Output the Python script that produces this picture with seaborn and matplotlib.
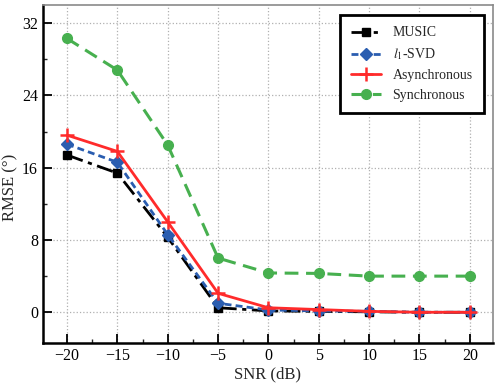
import numpy as np
import pandas as pd
import matplotlib
matplotlib.use("Agg")
import matplotlib.pyplot as plt
import seaborn as sns
from matplotlib.ticker import MultipleLocator

snr = [-20, -15, -10, -5, 0, 5, 10, 15, 20]
music = [17.4, 15.4, 8.3, 0.5, 0.15, 0.1, 0.05, 0.0, 0.0]
l1svd = [18.6, 16.6, 8.6, 1.0, 0.25, 0.15, 0.1, 0.0, 0.0]
asyn = [19.6, 17.8, 10.0, 2.1, 0.5, 0.3, 0.1, 0.0, 0.0]
syn = [30.3, 26.8, 18.5, 6.0, 4.35, 4.3, 4.0, 4.0, 4.0]
names = ["MUSIC", "$l_1$-SVD", "Asynchronous", "Synchronous"]

sns.set_theme(style="ticks")
plt.rcParams["font.family"] = ["Liberation Serif", "DejaVu Serif"]
plt.rcParams["mathtext.fontset"] = "stix"

fig = plt.figure(figsize=(4.98, 3.88), dpi=100)
ax = fig.add_axes([0.086, 0.116, 0.904, 0.871])

styles = [
    dict(color="black", ls=(0, (6, 2, 1.5, 2)), marker="s", ms=6, mec="black", mfc="black", lw=2.0),
    dict(color="#2a5db0", ls=(0, (2.5, 1.5)), marker="D", ms=6, mec="#2a5db0", mfc="#2a5db0", lw=2.0),
    dict(color="#ff2b2b", ls="-", marker="+", ms=10, mec="#ff2b2b", mfc="#ff2b2b", lw=2.0, mew=1.8),
    dict(color="#47b04f", ls=(0, (4.5, 2.5)), marker="o", ms=7, mec="#47b04f", mfc="#47b04f", lw=2.2),
]
series = [music, l1svd, asyn, syn]
for name, vals, st in zip(names, series, styles):
    df = pd.DataFrame({"SNR": snr, "RMSE": vals})
    sns.lineplot(data=df, x="SNR", y="RMSE", ax=ax, label=name,
                 color=st["color"], linestyle=st["ls"], marker=st["marker"],
                 markersize=st["ms"], markeredgecolor=st["mec"], markerfacecolor=st["mfc"],
                 linewidth=st["lw"], markeredgewidth=st.get("mew", 1.0))

ax.set_xlim(-22.4, 22.3)
ax.set_ylim(-3.4, 34)
ax.xaxis.set_major_locator(MultipleLocator(5))
ax.xaxis.set_minor_locator(MultipleLocator(2.5))
ax.yaxis.set_major_locator(MultipleLocator(8))
ax.yaxis.set_minor_locator(MultipleLocator(4))
ax.grid(True, which="major", ls=":", color="#b0b0b0", lw=0.9)
ax.tick_params(which="major", direction="in", length=6.5, width=1.3, labelsize=11.5, colors="black")
ax.tick_params(which="minor", direction="in", length=3, width=1.0)
ax.set_xlabel("SNR (dB)", fontsize=12, labelpad=2)
ax.set_ylabel("RMSE (°)", fontsize=12, va="center")
ax.yaxis.set_label_coords(-0.072, 0.46)
for s in ["left", "bottom"]:
    ax.spines[s].set_color("black")
    ax.spines[s].set_linewidth(1.8)
for s in ["top", "right"]:
    ax.spines[s].set_color("#8a8a8a")
    ax.spines[s].set_linewidth(1.2)

leg = ax.legend(loc="upper right", bbox_to_anchor=(0.995, 0.99), fontsize=10,
                frameon=True, fancybox=False, edgecolor="black", framealpha=1,
                labelspacing=0.5, handlelength=2.2, borderpad=0.8)
leg.get_frame().set_linewidth(2.0)

fig.savefig("out.png", dpi=100)
